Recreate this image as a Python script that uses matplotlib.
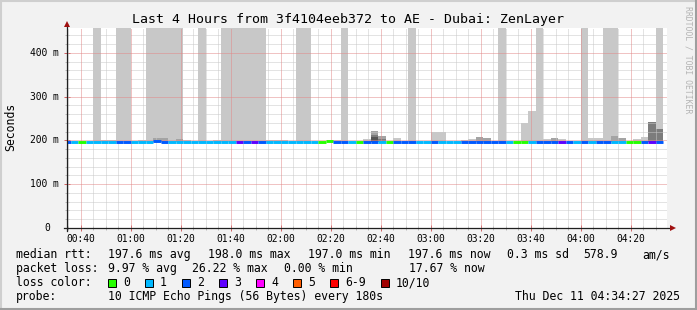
import numpy as np
import matplotlib
matplotlib.use("Agg")
import matplotlib.pyplot as plt
from matplotlib import transforms
from matplotlib.lines import Line2D
from matplotlib.patches import Rectangle
from matplotlib.ticker import FixedLocator, MultipleLocator, NullFormatter

W, H = 697, 310
FONT = "DejaVu Sans Mono"
plt.rcParams['font.family'] = [FONT, 'DejaVu Sans']

# ------------------------------------------------------------------ data
title = "Last 4 Hours from 3f4104eeb372 to AE - Dubai: ZenLayer"
t_start_label = "00:34:27"
t_end_label = "04:34:27"
first_bin_label = "00:33"
bin_minutes = 3

x_tick_labels = ["00:40", "01:00", "01:20", "01:40", "02:00", "02:20",
                 "02:40", "03:00", "03:20", "03:40", "04:00", "04:20"]
y_tick_values = [0, 100, 200, 300, 400]
y_tick_labels = ["0", "100 m", "200 m", "300 m", "400 m"]
y_max = 457.14

# median rtt per 3-minute bin (ms)
median_ms = [197.6, 197.5, 197.7, 197.6, 197.6, 197.5, 197.6, 197.7, 197.6, 197.6,
             197.5, 197.6, 197.8, 197.7, 197.6, 197.6, 197.5, 197.6, 197.6, 197.7,
             197.6, 197.6, 197.5, 197.6, 197.7, 197.6, 197.6, 197.5, 197.6, 197.6,
             197.7, 197.6, 197.6, 197.5, 197.6, 198.0, 197.6, 197.7, 197.6, 197.5,
             197.6, 197.7, 197.6, 197.6, 197.5, 197.6, 197.6, 197.7, 197.6, 197.6,
             197.5, 197.6, 197.6, 197.7, 197.6, 197.6, 197.5, 197.6, 197.6, 197.6,
             197.7, 197.6, 197.0, 197.6, 197.6, 197.5, 197.6, 197.7, 197.6, 197.6,
             197.5, 197.6, 197.6, 197.7, 197.6, 197.6, 197.5, 197.6, 197.7, 197.6]

# lost pings (out of 10) per bin
lost_pings = [2, 1, 0, 1, 1, 1, 1, 2, 2, 1,
              1, 1, 2, 2, 1, 1, 1, 1, 1, 1,
              1, 1, 1, 3, 2, 3, 2, 1, 1, 1,
              1, 1, 1, 1, 0, 0, 2, 2, 1, 0,
              2, 2, 1, 0, 2, 2, 2, 1, 1, 2,
              1, 1, 1, 2, 2, 2, 2, 2, 2, 1,
              0, 0, 1, 2, 2, 2, 3, 2, 1, 2,
              1, 2, 2, 1, 1, 0, 0, 2, 3, 2]

INF = float("inf")  # lost ping -> smoke to infinity
# smoke layers: bin indices and top value (ms), lightest layer first
smoke1_bins = [4, 5, 6, 7, 8, 10, 11, 12, 13, 14, 15, 16, 18, 20, 21, 22, 23, 24, 25, 26,
               27, 28, 29, 31, 32, 36, 37, 40, 44, 46, 49, 50, 53, 54, 58, 61, 62, 63,
               64, 66, 69, 70, 71, 72, 73, 76, 77, 79]
smoke1_top = [INF, 201, 201, INF, INF, 201, INF, INF, INF, INF, INF, 202, INF, 201, INF, INF,
              INF, INF, INF, INF, 201, 201, 201, INF, INF, 202, INF, 203, 206, INF, 220, 220,
              202, 203, INF, 240, 267, INF, 203, 203, INF, 205, 205, INF, INF, 203, 208, INF]
smoke2_bins = [12, 13, 15, 41, 42, 55, 56, 65, 73, 74]
smoke2_top = [206, 206, 203, 222, 210, 208, 205, 205, 210, 205]
smoke3_bins = [41, 42, 78, 79]
smoke3_top = [212, 204, 242, 226]
smoke4_bins = [41]
smoke4_top = [207]

loss_legend_labels = ["0", "1", "2", "3", "4", "5", "6-9", "10/10"]
loss_legend_colors = ["#26ff00", "#00b8ff", "#0059ff", "#5e00ff", "#ff00ff",
                      "#ff5e00", "#ff0000", "#a10000"]


def hm(s):
    parts = [float(p) for p in s.split(":")]
    return parts[0] * 60 + parts[1] + (parts[2] / 60 if len(parts) > 2 else 0)


def loss_color(n):
    if n <= 5:
        return loss_legend_colors[n]
    if n < 10:
        return loss_legend_colors[6]
    return loss_legend_colors[7]


# ------------------------------------------------------------------ figure
BG = "#f2f2f2"
fig = plt.figure(figsize=(W / 100, H / 100), dpi=100, facecolor=BG)
ax = fig.add_axes([67 / W, 1 - 228 / H, 600 / W, 200 / H])
ax.set_facecolor("white")
t0, t1 = hm(t_start_label), hm(t_end_label)
ax.set_xlim(t0, t1)
ax.set_ylim(0, y_max)

starts = hm(first_bin_label) + bin_minutes * np.arange(len(median_ms))
base = 196.0
layers = [(smoke1_bins, smoke1_top, "#c8c8c8"),
          (smoke2_bins, smoke2_top, "#a4a4a4"),
          (smoke3_bins, smoke3_top, "#7c7c7c"),
          (smoke4_bins, smoke4_top, "#565656")]
for i, (bins, tops, col) in enumerate(layers):
    b = np.array(bins)
    t = np.minimum(np.array(tops, dtype=float), y_max + 5)
    ax.bar(starts[b], t - base, width=bin_minutes, bottom=base, align="edge",
           color=col, linewidth=0, zorder=1 + 0.1 * i)

ax.hlines(median_ms, starts, starts + bin_minutes,
          colors=[loss_color(n) for n in lost_pings], lw=2.1,
          capstyle="butt", zorder=3)

# ticks
x_major = [hm(s) for s in x_tick_labels]
ax.xaxis.set_major_locator(FixedLocator(x_major))
ax.set_xticklabels(x_tick_labels)
ax.xaxis.set_minor_locator(MultipleLocator(5))
ax.yaxis.set_major_locator(FixedLocator(y_tick_values))
ax.yaxis.set_major_formatter(NullFormatter())
ax.yaxis.set_minor_locator(MultipleLocator(20))
for s in ax.spines.values():
    s.set_visible(False)
ax.tick_params(axis="x", which="major", direction="inout", length=4, width=0.7,
               color="#d06060", labelsize=6.9, pad=2)
ax.tick_params(axis="x", which="minor", direction="inout", length=3, width=0.6,
               color="#b0b0b0")
ax.tick_params(axis="y", which="major", direction="inout", length=4, width=0.7,
               color="#d06060")
ax.tick_params(axis="y", which="minor", direction="inout", length=3, width=0.6,
               color="#b0b0b0")

# dotted grid drawn on top of the smoke (rrdtool style): 1px on / 1px off
gkw = dict(lw=0.72, dashes=(1, 1), snap=True, antialiased=True, zorder=2.5)
x_minor = [v for v in np.arange(35, t1, 5) if min(abs(v - m) for m in x_major) > 1e-6]
y_minor = [v for v in np.arange(20, y_max, 20) if v % 100 != 0]
for v in x_minor:
    ax.axvline(v, color="#c8c8c8", **gkw)
for v in y_minor:
    ax.axhline(v, color="#c8c8c8", **gkw)
for v in x_major:
    ax.axvline(v, color="#e28888", **gkw)
for v in y_tick_values[1:]:
    ax.axhline(v, color="#e28888", **gkw)

# y labels
ylab_tr = transforms.blended_transform_factory(ax.transAxes, ax.transData)
for v, lab in zip(y_tick_values, y_tick_labels):
    xoff = -8 if lab != "0" else -17
    ax.text(0, v, lab, transform=ylab_tr + transforms.ScaledTranslation(xoff / 100, 0, fig.dpi_scale_trans),
            ha="right", va="center", fontsize=6.9, color="black")

# axis lines + arrows
ax.plot([-3 / 600, 1 + 3 / 600], [0, 0], transform=ax.transAxes, color="#202020",
        lw=0.9, clip_on=False, zorder=5)
ax.plot([0, 0], [-3 / 200, 1 + 4 / 200], transform=ax.transAxes, color="#202020",
        lw=0.9, clip_on=False, zorder=5)
ax.plot([1 + 5.5 / 600], [0], marker=">", ms=4.5, color="#a01010", mew=0,
        transform=ax.transAxes, clip_on=False, zorder=6)
ax.plot([0], [1 + 4.5 / 200], marker="^", ms=4.5, color="#a01010", mew=0,
        transform=ax.transAxes, clip_on=False, zorder=6)


def ftext(x, y, s, **kw):
    kw.setdefault("fontsize", 8.3)
    kw.setdefault("va", "center")
    fig.text(x / W, 1 - y / H, s, **kw)


ftext(348, 19, title, fontsize=9.55, ha="center")
ftext(11, 127, "Seconds", rotation=90, ha="center")
ftext(688, 60, "RRDTOOL / TOBI OETIKER", rotation=270, ha="center",
      fontsize=5.9, color="#b4b4b4")

# legend
r1, r2, r3, r4 = 254.5, 268.5, 282.5, 296.5
ftext(16, r1, "median rtt:")
for x, s in [(108, "197.6 ms avg"), (208, "198.0 ms max"), (308, "197.0 ms min"),
             (408, "197.6 ms now"), (507, "0.3 ms sd"), (583, "578.9"), (642, "am/s")]:
    ftext(x, r1, s)
ftext(16, r2, "packet loss:")
for x, s in [(108, "9.97 % avg"), (192, "26.22 % max"), (284, "0.00 % min"),
             (409, "17.67 % now")]:
    ftext(x, r2, s)
ftext(16, r3, "loss color:")
box_x = [108, 145, 182, 219, 256, 293, 330, 381]
for bx, lab, col in zip(box_x, loss_legend_labels, loss_legend_colors):
    fig.add_artist(Rectangle((bx / W, 1 - (r3 + 4) / H), 8 / W, 8 / H,
                             transform=fig.transFigure, facecolor=col,
                             edgecolor="black", lw=0.7))
    ftext(bx + 15, r3, lab)
ftext(16, r4, "probe:")
ftext(108, r4, "10 ICMP Echo Pings (56 Bytes) every 180s")
ftext(680, r4, "Thu Dec 11 04:34:27 2025", ha="right")

# 3D border
for (x0, y0, x1, y1, c) in [(0, 0.5, W, 0.5, "#cfcfcf"), (0.5, 0, 0.5, H, "#cfcfcf"),
                            (0, H - 1, W, H - 1, "#9e9e9e"), (W - 1, 0, W - 1, H, "#9e9e9e")]:
    fig.add_artist(Line2D([x0 / W, x1 / W], [1 - y0 / H, 1 - y1 / H],
                          transform=fig.transFigure, color=c, lw=1.5))

fig.savefig("out.png", dpi=100, facecolor=BG)
